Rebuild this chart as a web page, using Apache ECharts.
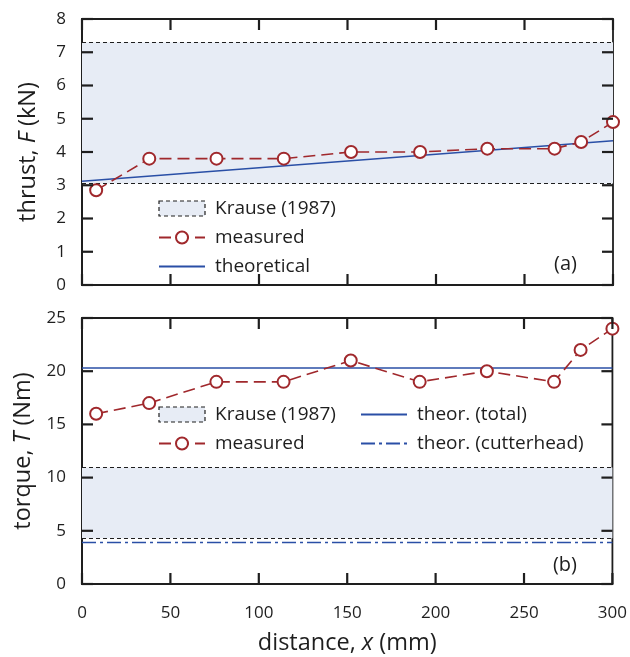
<!DOCTYPE html>
<html lang="en">

<head>
  <meta charset="UTF-8">
  <title>thrust and torque</title>
  <script src="https://cdn.jsdelivr.net/npm/echarts@6/dist/echarts.min.js"></script>
  <style>
    html, body { margin: 0; padding: 0; background: #fff; }
    #echarts { width: 630px; height: 657px; }
  </style>
</head>

<body>
  <div id="echarts"></div>
</body>

</html>
<script>
  // measured positions (mm)
  const dist = [8, 38, 76, 114, 152, 191, 229, 267, 282, 300];
  const thrustMeasured = [2.85, 3.8, 3.8, 3.8, 4.0, 4.0, 4.1, 4.1, 4.3, 4.9];
  const torqueMeasured = [16, 17, 19, 19, 21, 19, 20, 19, 22, 24];

  // theoretical lines, end points
  const theorX = [0, 300];
  const thrustTheory = [3.12, 4.34];
  const torqueTotal = [20.3, 20.3];
  const torqueCutterhead = [3.9, 3.9];

  // Krause (1987) range [low, high]
  const krauseThrust = [3.05, 7.3];
  const krauseTorque = [4.3, 10.95];

  // tick values
  const xTicks = [0, 50, 100, 150, 200, 250, 300];
  const thrustTicks = [0, 1, 2, 3, 4, 5, 6, 7, 8];
  const torqueTicks = [0, 5, 10, 15, 20, 25];

  const red = '#a0282c';
  const blue = '#2a4fa6';
  const ink = '#1e1e1e';
  const font = 'Open Sans';
  const tickLen = 11;

  function pairs(xs, ys) {
    return xs.map((x, i) => [x, ys[i]]);
  }

  function bandSeries(range, idx) {
    return {
      name: 'Krause (1987)',
      type: 'line',
      xAxisIndex: idx,
      yAxisIndex: idx,
      data: pairs(theorX, [range[0], range[0]]),
      symbol: 'none',
      silent: true,
      lineStyle: { width: 0, opacity: 0 },
      z: 1,
      markArea: {
        silent: true,
        itemStyle: { color: '#e7ecf5' },
        data: [[{ yAxis: range[0] }, { yAxis: range[1] }]]
      },
      markLine: {
        silent: true,
        symbol: 'none',
        label: { show: false },
        lineStyle: { color: ink, type: [4, 3], width: 1.2 },
        data: [{ yAxis: range[0] }, { yAxis: range[1] }]
      }
    };
  }

  function measuredSeries(values, idx) {
    return {
      name: 'measured',
      type: 'line',
      xAxisIndex: idx,
      yAxisIndex: idx,
      data: pairs(dist, values),
      symbol: 'emptyCircle',
      symbolSize: 12,
      z: 5,
      itemStyle: { color: red, borderWidth: 2 },
      lineStyle: { color: red, width: 1.6, type: [12, 6] }
    };
  }

  function lineSeries(name, values, idx, type) {
    return {
      name: name,
      type: 'line',
      xAxisIndex: idx,
      yAxisIndex: idx,
      data: pairs(theorX, values),
      symbol: 'none',
      z: 4,
      itemStyle: { color: blue },
      lineStyle: { color: blue, width: 1.6, type: type || 'solid' }
    };
  }

  // inside ticks on all four sides of a grid, placed through the axes
  function tickSeries(idx, ticks, dir) {
    return {
      type: 'custom',
      xAxisIndex: idx,
      yAxisIndex: idx,
      silent: true,
      clip: false,
      z: 20,
      data: ticks.map(v => dir === 'x' ? [v, 0] : [0, v]),
      renderItem: function (params, api) {
        const cs = params.coordSys;
        const p = api.coord([api.value(0), api.value(1)]);
        const st = { stroke: ink, lineWidth: 2.2 };
        let a, b;
        if (dir === 'x') {
          a = { x1: p[0], y1: cs.y + cs.height, x2: p[0], y2: cs.y + cs.height - tickLen };
          b = { x1: p[0], y1: cs.y, x2: p[0], y2: cs.y + tickLen };
        } else {
          a = { x1: cs.x, y1: p[1], x2: cs.x + tickLen, y2: p[1] };
          b = { x1: cs.x + cs.width, y1: p[1], x2: cs.x + cs.width - tickLen, y2: p[1] };
        }
        return {
          type: 'group',
          children: [
            { type: 'line', shape: a, style: st },
            { type: 'line', shape: b, style: st }
          ]
        };
      }
    };
  }

  const nameRich = {
    t: { fontSize: 23.5, color: ink, fontFamily: font },
    i: { fontSize: 23.5, color: ink, fontFamily: font, fontStyle: 'italic' }
  };

  function xAxis(grid, labels) {
    return {
      type: 'value', gridIndex: grid,
      min: 0, max: 300, interval: 50,
      axisLine: { show: true, onZero: false, lineStyle: { color: ink, width: 1.8 } },
      axisTick: { show: false },
      axisLabel: { show: labels, margin: 21, color: ink, fontSize: 17, fontFamily: font },
      splitLine: { show: false },
      name: labels ? '{t|distance,\u00a0}{i|x}{t|\u00a0(mm)}' : '',
      nameLocation: 'middle',
      nameGap: 47,
      nameTextStyle: { rich: nameRich }
    };
  }

  function yAxis(grid, max, step, name, sym, unit) {
    return {
      type: 'value', gridIndex: grid,
      min: 0, max: max, interval: step,
      axisLine: { show: true, onZero: false, lineStyle: { color: ink, width: 1.8 } },
      axisTick: { show: false },
      axisLabel: { margin: 16, color: ink, fontSize: 17, fontFamily: font },
      splitLine: { show: false },
      name: '{t|' + name + '\u00a0}{i|' + sym + '}{t|\u00a0(' + unit + ')}',
      nameLocation: 'middle',
      nameGap: 42,
      nameRotate: 90,
      nameTextStyle: { rich: nameRich }
    };
  }

  const krauseItem = {
    name: 'Krause (1987)',
    icon: 'rect',
    itemStyle: { color: '#e7ecf5', borderColor: ink, borderWidth: 1.2, borderType: [4, 3] }
  };

  // plain lines in the legend: hide the symbol the line series adds
  function lineItem(name) {
    return { name: name, itemStyle: { opacity: 0 } };
  }

  function legend(left, top, data) {
    return {
      orient: 'vertical',
      left: left, top: top,
      itemWidth: 46, itemHeight: 15,
      itemGap: 10,
      selectedMode: false,
      textStyle: { fontSize: 19, color: ink, fontFamily: font, padding: [0, 0, 0, 5] },
      data: data
    };
  }

  let myChart = echarts.init(document.getElementById('echarts'));

  myChart.setOption({
    animation: false,
    grid: [
      { left: 82, top: 19, width: 531, height: 266, show: true, borderColor: ink, borderWidth: 1.8 },
      { left: 82, top: 318, width: 531, height: 266, show: true, borderColor: ink, borderWidth: 1.8 }
    ],
    xAxis: [xAxis(0, false), xAxis(1, true)],
    yAxis: [
      yAxis(0, 8, 1, 'thrust,', 'F', 'kN'),
      yAxis(1, 25, 5, 'torque,', 'T', 'Nm')
    ],
    legend: [
      legend(153, 194, [krauseItem, 'measured', lineItem('theoretical')]),
      legend(153, 400, [krauseItem, 'measured']),
      legend(355, 400, [lineItem('theor. (total)'), lineItem('theor. (cutterhead)')])
    ],
    graphic: [
      { type: 'text', right: 53, top: 254, style: { text: '(a)', fontSize: 20, fill: ink, fontFamily: font } },
      { type: 'text', right: 53, top: 555, style: { text: '(b)', fontSize: 20, fill: ink, fontFamily: font } }
    ],
    series: [
      bandSeries(krauseThrust, 0),
      measuredSeries(thrustMeasured, 0),
      lineSeries('theoretical', thrustTheory, 0),
      bandSeries(krauseTorque, 1),
      measuredSeries(torqueMeasured, 1),
      lineSeries('theor. (total)', torqueTotal, 1),
      lineSeries('theor. (cutterhead)', torqueCutterhead, 1, [14, 4, 3, 4]),
      tickSeries(0, xTicks, 'x'),
      tickSeries(0, thrustTicks, 'y'),
      tickSeries(1, xTicks, 'x'),
      tickSeries(1, torqueTicks, 'y')
    ]
  });
</script>
